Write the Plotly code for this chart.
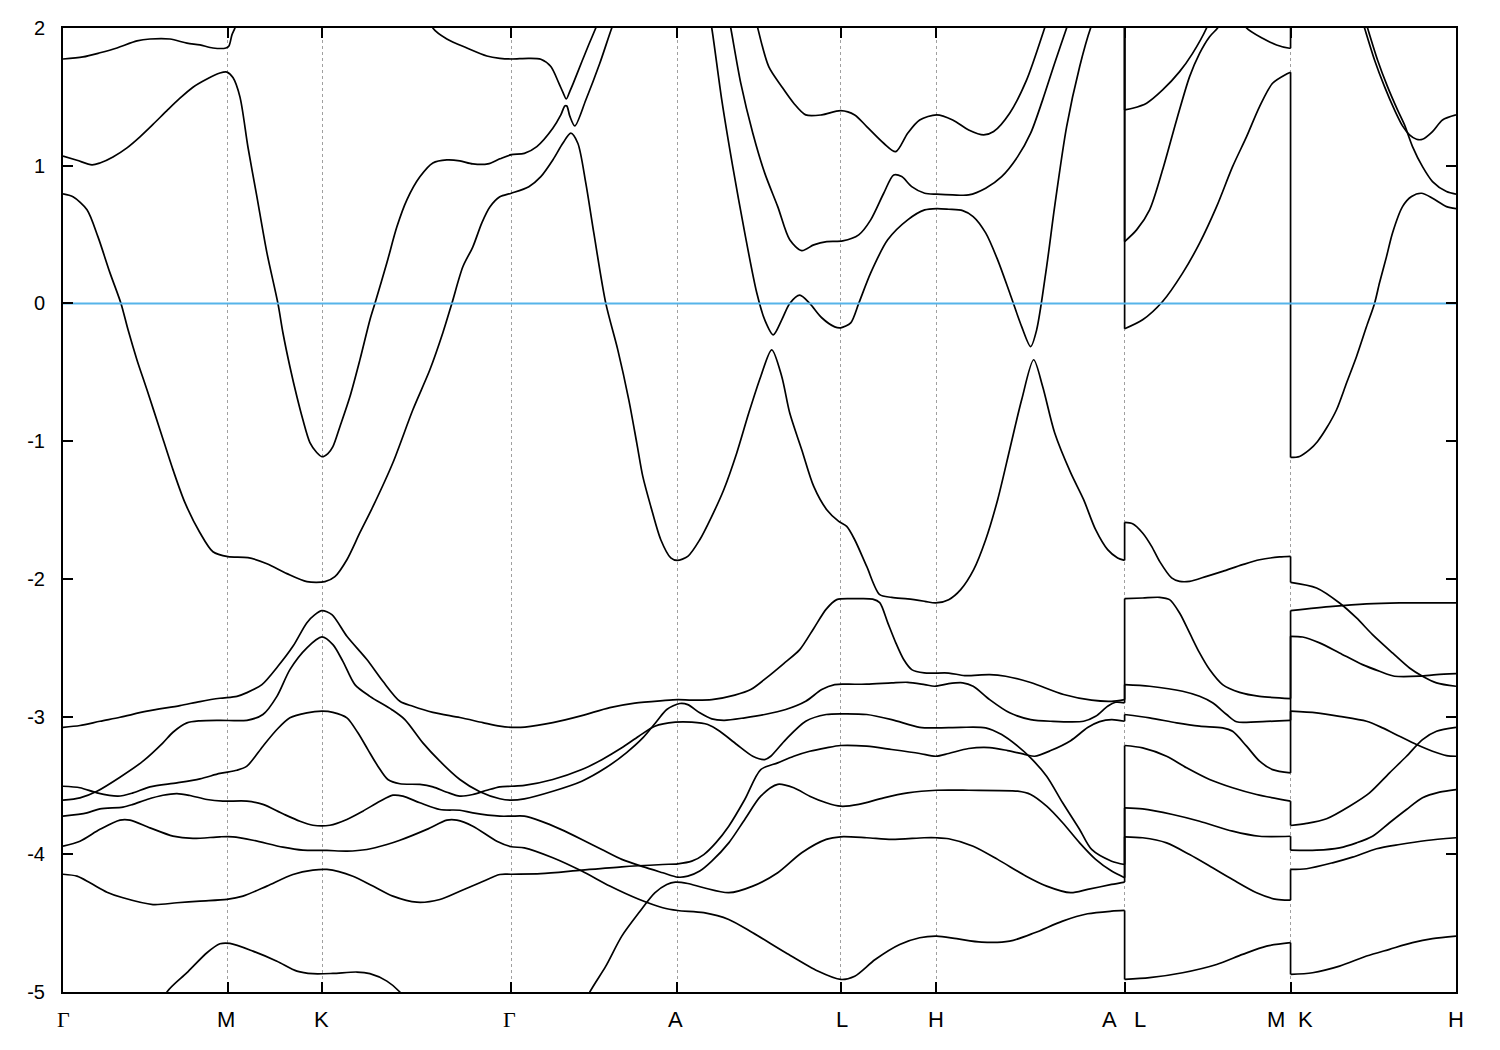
import plotly.graph_objects as go

# ---- high-symmetry path (k in arbitrary path-length units) ----
K_TICKS = [0.0, 1.647, 2.593, 4.485, 6.146, 7.78, 8.735, 10.62, 12.28, 13.935]
LABEL_K = [0.0, 1.63, 2.59, 4.47, 6.13, 7.79, 8.735, 10.47, 10.77, 12.13, 12.43, 13.935]
LABEL_TEXT = ["Γ", "M", "K", "Γ", "A", "L", "H", "A", "L", "M", "K", "H"]
E_TICKS = [2, 1, 0, -1, -2, -3, -4, -5]
E_TICK_TEXT = ["2", "1", "0", "-1", "-2", "-3", "-4", "-5"]
E_FERMI = 0.0
K_RANGE = [0.0, 13.935]
E_RANGE = [-5.0, 2.0]

# ---- bands: (k, E) samples; pieces per continuous path part ----
b1_gmkg = [(0.87,-5.27),(1.04,-5.0),(1.24,-4.86),(1.44,-4.715),(1.57,-4.65),(1.67,-4.647),(1.90,-4.703),(2.14,-4.776),(2.34,-4.848),(2.50,-4.867),(2.70,-4.865),(2.94,-4.855),(3.07,-4.867),(3.24,-4.921),(3.37,-5.0),(3.50,-5.13)]
b1_gala = [(5.12,-5.235),(5.27,-5.0),(5.43,-4.812),(5.59,-4.594),(5.76,-4.425),(5.92,-4.28),(6.04,-4.219),(6.125,-4.202),(6.25,-4.212),(6.41,-4.243),(6.66,-4.279),(6.90,-4.231),(7.15,-4.134),(7.39,-3.989),(7.635,-3.892),(7.78,-3.873),(8.04,-3.88),(8.29,-3.892),(8.615,-3.88),(8.74,-3.88),(8.86,-3.887),(9.105,-3.941),(9.35,-4.037),(9.635,-4.159),(9.84,-4.231),(10.08,-4.279),(10.25,-4.255),(10.49,-4.219),(10.62,-4.202)]
b1_lm = [(10.62,-3.873),(10.80,-3.88),(11.04,-3.917),(11.27,-4.002),(11.50,-4.098),(11.70,-4.183),(11.94,-4.279),(12.14,-4.328),(12.28,-4.333)]
b1_kh = [(12.28,-4.11),(12.44,-4.105),(12.70,-4.062),(12.90,-4.021),(13.14,-3.96),(13.37,-3.929),(13.64,-3.90),(13.935,-3.88)]

b2_path = [(0.00,-3.941),(0.17,-3.905),(0.37,-3.819),(0.57,-3.752),(0.67,-3.752),(0.87,-3.808),(1.10,-3.868),(1.30,-3.885),(1.57,-3.873),(1.70,-3.873),(1.90,-3.898),(2.20,-3.948),(2.40,-3.97),(2.64,-3.972),(2.84,-3.977),(3.04,-3.965),(3.24,-3.929),(3.37,-3.898),(3.64,-3.819),(3.84,-3.752),(3.94,-3.752),(4.10,-3.796),(4.34,-3.905),(4.485,-3.945),(4.615,-3.953),(4.90,-4.025),(5.19,-4.122),(5.47,-4.231),(5.76,-4.327),(6.00,-4.388),(6.15,-4.408),(6.41,-4.424),(6.66,-4.473),(6.90,-4.57),(7.23,-4.715),(7.55,-4.848),(7.78,-4.909),(7.92,-4.885),(8.125,-4.764),(8.37,-4.655),(8.57,-4.606),(8.74,-4.594),(8.94,-4.613),(9.19,-4.638),(9.47,-4.631),(9.72,-4.57),(10.00,-4.485),(10.25,-4.432),(10.49,-4.413),(10.62,-4.408)]
b2_lm = [(10.62,-4.909),(10.87,-4.896),(11.20,-4.86),(11.54,-4.80),(11.80,-4.727),(12.04,-4.667),(12.28,-4.642)]
b2_kh = [(12.28,-4.872),(12.50,-4.86),(12.77,-4.812),(13.04,-4.739),(13.27,-4.69),(13.50,-4.642),(13.70,-4.613),(13.935,-4.594)]

b3_path = [(0.00,-4.145),(0.14,-4.159),(0.27,-4.207),(0.44,-4.275),(0.60,-4.316),(0.90,-4.365),(1.14,-4.352),(1.37,-4.34),(1.64,-4.328),(1.80,-4.304),(2.04,-4.231),(2.30,-4.147),(2.50,-4.115),(2.64,-4.11),(2.90,-4.159),(3.10,-4.231),(3.30,-4.304),(3.54,-4.348),(3.77,-4.328),(3.97,-4.268),(4.17,-4.207),(4.37,-4.147),(4.485,-4.145),(4.78,-4.141),(5.19,-4.115),(5.59,-4.091),(6.00,-4.074),(6.15,-4.069),(6.29,-4.05),(6.41,-4.002),(6.53,-3.917),(6.66,-3.796),(6.82,-3.602),(6.98,-3.385),(7.15,-3.336),(7.31,-3.288),(7.47,-3.252),(7.635,-3.227),(7.78,-3.21),(8.04,-3.215),(8.29,-3.239),(8.57,-3.268),(8.73,-3.288),(8.86,-3.268),(9.06,-3.232),(9.27,-3.225),(9.45,-3.247),(9.63,-3.276),(9.72,-3.288),(9.88,-3.247),(10.08,-3.175),(10.25,-3.08),(10.37,-3.037),(10.49,-3.022),(10.62,-3.034)]
b3_lm = [(10.62,-2.985),(10.87,-3.009),(11.14,-3.046),(11.37,-3.07),(11.60,-3.082),(11.70,-3.107),(11.84,-3.215),(11.97,-3.324),(12.10,-3.385),(12.28,-3.409)]
b3_kh = [(12.28,-2.961),(12.54,-2.973),(12.77,-2.998),(13.04,-3.034),(13.20,-3.082),(13.37,-3.143),(13.54,-3.203),(13.70,-3.252),(13.84,-3.283),(13.935,-3.288)]

b4_path = [(0.00,-3.723),(0.24,-3.699),(0.37,-3.67),(0.60,-3.658),(0.70,-3.638),(0.84,-3.602),(1.00,-3.571),(1.14,-3.559),(1.27,-3.573),(1.44,-3.602),(1.60,-3.614),(1.84,-3.614),(2.00,-3.638),(2.20,-3.706),(2.37,-3.76),(2.50,-3.789),(2.67,-3.789),(2.84,-3.747),(3.00,-3.687),(3.17,-3.615),(3.30,-3.571),(3.40,-3.578),(3.57,-3.626),(3.77,-3.675),(3.97,-3.68),(4.10,-3.699),(4.37,-3.723),(4.485,-3.723),(4.615,-3.723),(4.78,-3.759),(4.98,-3.819),(5.19,-3.892),(5.39,-3.965),(5.59,-4.037),(5.80,-4.09),(6.00,-4.134),(6.15,-4.166),(6.25,-4.159),(6.37,-4.122),(6.49,-4.05),(6.66,-3.917),(6.82,-3.747),(6.98,-3.578),(7.15,-3.492),(7.31,-3.517),(7.47,-3.578),(7.635,-3.626),(7.78,-3.651),(7.96,-3.638),(8.21,-3.59),(8.45,-3.554),(8.74,-3.535),(9.06,-3.535),(9.55,-3.542),(9.68,-3.566),(9.84,-3.651),(10.00,-3.771),(10.17,-3.917),(10.33,-4.037),(10.49,-4.122),(10.62,-4.17)]
b4_lm = [(10.62,-3.663),(10.80,-3.67),(11.10,-3.711),(11.37,-3.76),(11.70,-3.832),(11.97,-3.869),(12.28,-3.869)]
b4_kh = [(12.28,-3.97),(12.54,-3.97),(12.77,-3.953),(12.94,-3.917),(13.10,-3.869),(13.27,-3.771),(13.44,-3.675),(13.60,-3.59),(13.77,-3.549),(13.935,-3.53)]

b5_path = [(0.00,-3.506),(0.17,-3.517),(0.34,-3.554),(0.55,-3.578),(0.70,-3.554),(0.87,-3.51),(1.14,-3.481),(1.37,-3.452),(1.57,-3.413),(1.74,-3.39),(1.84,-3.36),(2.00,-3.215),(2.14,-3.094),(2.27,-3.009),(2.44,-2.973),(2.59,-2.961),(2.70,-2.969),(2.84,-3.009),(2.95,-3.118),(3.05,-3.24),(3.15,-3.36),(3.25,-3.457),(3.37,-3.488),(3.57,-3.493),(3.70,-3.51),(3.84,-3.549),(3.97,-3.578),(4.10,-3.566),(4.24,-3.535),(4.37,-3.51),(4.485,-3.506),(4.615,-3.50),(4.90,-3.457),(5.19,-3.385),(5.39,-3.313),(5.59,-3.227),(5.76,-3.143),(5.92,-3.07),(6.125,-3.041),(6.29,-3.041),(6.45,-3.058),(6.57,-3.107),(6.74,-3.203),(6.90,-3.288),(7.02,-3.312),(7.08,-3.288),(7.23,-3.167),(7.43,-3.034),(7.635,-2.985),(7.80,-2.98),(8.04,-2.985),(8.29,-3.022),(8.57,-3.078),(8.74,-3.082),(8.98,-3.078),(9.23,-3.082),(9.39,-3.131),(9.55,-3.215),(9.68,-3.30),(9.84,-3.433),(10.00,-3.626),(10.17,-3.82),(10.29,-3.965),(10.49,-4.05),(10.62,-4.074)]
b5_lm = [(10.62,-3.21),(10.80,-3.227),(11.04,-3.288),(11.24,-3.372),(11.47,-3.457),(11.70,-3.517),(11.94,-3.566),(12.28,-3.614)]
b5_kh = [(12.28,-3.791),(12.44,-3.776),(12.64,-3.742),(12.87,-3.651),(13.07,-3.554),(13.27,-3.409),(13.44,-3.288),(13.60,-3.167),(13.74,-3.107),(13.935,-3.078)]

b6_path = [(0.00,-3.607),(0.17,-3.59),(0.34,-3.542),(0.57,-3.44),(0.80,-3.324),(1.00,-3.191),(1.10,-3.114),(1.24,-3.046),(1.37,-3.031),(1.57,-3.027),(1.84,-3.027),(2.00,-2.985),(2.14,-2.853),(2.27,-2.659),(2.44,-2.501),(2.59,-2.422),(2.70,-2.478),(2.80,-2.599),(2.92,-2.768),(3.07,-2.853),(3.29,-2.95),(3.42,-3.022),(3.60,-3.191),(3.77,-3.324),(3.97,-3.457),(4.17,-3.546),(4.37,-3.597),(4.485,-3.607),(4.615,-3.597),(4.90,-3.542),(5.19,-3.469),(5.43,-3.372),(5.635,-3.263),(5.80,-3.155),(5.94,-3.034),(6.04,-2.949),(6.17,-2.905),(6.25,-2.913),(6.37,-2.973),(6.49,-3.017),(6.615,-3.027),(6.82,-3.009),(7.02,-2.985),(7.23,-2.949),(7.43,-2.889),(7.59,-2.804),(7.72,-2.768),(7.84,-2.765),(8.04,-2.765),(8.29,-2.755),(8.45,-2.751),(8.62,-2.768),(8.72,-2.78),(8.86,-2.761),(9.00,-2.755),(9.105,-2.78),(9.27,-2.877),(9.47,-2.973),(9.68,-3.022),(9.88,-3.034),(10.21,-3.034),(10.33,-2.998),(10.45,-2.925),(10.53,-2.896),(10.62,-2.90)]
b6_lm = [(10.62,-2.768),(10.87,-2.78),(11.20,-2.816),(11.37,-2.853),(11.50,-2.90),(11.64,-2.985),(11.74,-3.038),(11.94,-3.038),(12.28,-3.027)]
b6_kh = [(12.28,-2.417),(12.40,-2.422),(12.57,-2.465),(12.77,-2.538),(13.00,-2.623),(13.17,-2.671),(13.32,-2.707),(13.57,-2.707),(13.74,-2.695),(13.935,-2.688)]

b7_path = [(0.00,-3.078),(0.17,-3.065),(0.37,-3.034),(0.57,-3.005),(0.84,-2.961),(1.17,-2.92),(1.37,-2.891),(1.57,-2.867),(1.74,-2.853),(1.84,-2.826),(1.99,-2.768),(2.15,-2.635),(2.30,-2.49),(2.44,-2.318),(2.52,-2.26),(2.59,-2.231),(2.69,-2.26),(2.84,-2.417),(3.04,-2.586),(3.20,-2.744),(3.37,-2.889),(3.50,-2.925),(3.70,-2.969),(3.97,-3.007),(4.20,-3.044),(4.37,-3.07),(4.485,-3.078),(4.62,-3.076),(4.90,-3.044),(5.19,-2.993),(5.47,-2.935),(5.72,-2.902),(6.00,-2.884),(6.15,-2.877),(6.29,-2.88),(6.49,-2.877),(6.72,-2.844),(6.88,-2.804),(7.04,-2.717),(7.21,-2.615),(7.37,-2.514),(7.51,-2.36),(7.635,-2.22),(7.74,-2.151),(7.92,-2.144),(8.10,-2.147),(8.17,-2.173),(8.25,-2.318),(8.33,-2.463),(8.41,-2.586),(8.49,-2.659),(8.615,-2.683),(8.86,-2.684),(9.02,-2.702),(9.27,-2.695),(9.43,-2.707),(9.68,-2.753),(10.01,-2.84),(10.29,-2.881),(10.49,-2.889),(10.62,-2.877)]
b7_lm = [(10.62,-2.144),(10.80,-2.139),(10.97,-2.134),(11.07,-2.151),(11.17,-2.248),(11.27,-2.393),(11.37,-2.538),(11.47,-2.659),(11.60,-2.768),(11.77,-2.824),(11.97,-2.853),(12.28,-2.869)]
b7_kh = [(12.28,-2.231),(12.70,-2.20),(13.04,-2.182),(13.37,-2.175),(13.935,-2.175)]

b8_path = [(0.00,0.795),(0.10,0.774),(0.24,0.68),(0.35,0.483),(0.47,0.222),(0.58,0.0),(0.65,-0.19),(0.74,-0.41),(0.84,-0.627),(0.97,-0.917),(1.10,-1.207),(1.22,-1.447),(1.37,-1.665),(1.50,-1.803),(1.65,-1.839),(1.85,-1.846),(2.04,-1.89),(2.24,-1.962),(2.44,-2.02),(2.62,-2.02),(2.72,-1.984),(2.84,-1.861),(2.97,-1.665),(3.10,-1.476),(3.30,-1.157),(3.50,-0.772),(3.67,-0.482),(3.80,-0.213),(3.89,0.0),(4.00,0.266),(4.10,0.411),(4.19,0.585),(4.27,0.70),(4.37,0.774),(4.485,0.80),(4.66,0.848),(4.78,0.921),(4.90,1.042),(5.00,1.163),(5.08,1.236),(5.15,1.163),(5.23,0.873),(5.31,0.512),(5.43,0.0),(5.55,-0.337),(5.66,-0.70),(5.74,-1.014),(5.80,-1.256),(5.88,-1.474),(5.98,-1.716),(6.08,-1.848),(6.145,-1.866),(6.25,-1.837),(6.37,-1.716),(6.49,-1.546),(6.61,-1.353),(6.74,-1.086),(6.86,-0.796),(6.98,-0.53),(7.09,-0.337),(7.19,-0.53),(7.27,-0.796),(7.39,-1.062),(7.51,-1.329),(7.64,-1.498),(7.76,-1.583),(7.84,-1.619),(7.92,-1.716),(8.04,-1.91),(8.17,-2.115),(8.29,-2.134),(8.45,-2.146),(8.62,-2.163),(8.73,-2.175),(8.86,-2.151),(8.98,-2.078),(9.11,-1.933),(9.23,-1.716),(9.35,-1.425),(9.47,-1.062),(9.59,-0.70),(9.71,-0.409),(9.80,-0.603),(9.92,-0.939),(10.08,-1.229),(10.21,-1.425),(10.33,-1.643),(10.45,-1.788),(10.55,-1.848),(10.62,-1.866)]
b8_lm = [(10.62,-1.59),(10.70,-1.60),(10.80,-1.667),(10.89,-1.764),(10.97,-1.873),(11.09,-1.993),(11.17,-2.018),(11.27,-2.018),(11.44,-1.982),(11.60,-1.946),(11.80,-1.897),(11.97,-1.861),(12.17,-1.841),(12.28,-1.837)]
b8_kh = [(12.28,-2.025),(12.54,-2.066),(12.77,-2.175),(12.94,-2.284),(13.10,-2.405),(13.30,-2.538),(13.47,-2.647),(13.60,-2.707),(13.74,-2.755),(13.935,-2.78)]

b9_path = [(0.00,1.07),(0.14,1.04),(0.29,1.006),(0.37,1.02),(0.50,1.064),(0.64,1.13),(0.77,1.21),(0.90,1.30),(1.04,1.40),(1.17,1.49),(1.30,1.57),(1.44,1.63),(1.57,1.673),(1.64,1.68),(1.70,1.64),(1.77,1.50),(1.85,1.136),(1.94,0.774),(2.04,0.367),(2.15,0.0),(2.20,-0.213),(2.27,-0.46),(2.34,-0.678),(2.40,-0.845),(2.47,-1.01),(2.54,-1.084),(2.59,-1.113),(2.65,-1.09),(2.70,-1.04),(2.77,-0.895),(2.87,-0.678),(2.97,-0.41),(3.07,-0.12),(3.12,0.0),(3.24,0.295),(3.34,0.556),(3.44,0.752),(3.57,0.919),(3.70,1.02),(3.84,1.042),(3.97,1.035),(4.10,1.013),(4.25,1.013),(4.37,1.05),(4.485,1.08),(4.615,1.09),(4.74,1.139),(4.90,1.272),(4.98,1.369),(5.02,1.434),(5.04,1.434),(5.07,1.36),(5.12,1.289),(5.23,1.477),(5.37,1.744),(5.49,2.0),(5.53,2.07)]

b10_gm = [(0.00,1.775),(0.20,1.79),(0.37,1.82),(0.54,1.855),(0.74,1.906),(0.87,1.92),(1.07,1.92),(1.24,1.89),(1.37,1.877),(1.50,1.855),(1.63,1.855),(1.66,1.87),(1.69,1.95),(1.72,2.0),(1.75,2.08)]
b10_kga = [(3.67,2.08),(3.70,2.0),(3.84,1.92),(4.04,1.855),(4.24,1.797),(4.37,1.78),(4.485,1.775),(4.66,1.78),(4.78,1.773),(4.88,1.72),(4.96,1.60),(5.00,1.535),(5.035,1.485),(5.07,1.54),(5.105,1.60),(5.19,1.755),(5.26,1.88),(5.33,2.0),(5.37,2.07)]

b11_path = [(6.47,2.07),(6.49,2.0),(6.59,1.478),(6.70,0.993),(6.82,0.512),(6.94,0.077),(7.02,-0.119),(7.105,-0.228),(7.19,-0.119),(7.27,0.0),(7.37,0.06),(7.47,0.0),(7.59,-0.104),(7.72,-0.17),(7.78,-0.177),(7.88,-0.141),(7.96,0.0),(8.08,0.222),(8.25,0.462),(8.45,0.607),(8.62,0.679),(8.74,0.689),(8.86,0.684),(9.00,0.674),(9.105,0.631),(9.23,0.512),(9.35,0.316),(9.47,0.077),(9.59,-0.168),(9.68,-0.313),(9.74,-0.192),(9.84,0.268),(9.92,0.703),(10.04,1.284),(10.17,1.719),(10.28,2.0),(10.32,2.07),(10.62,2.6)]
b11_lm = [(10.62,-0.184),(10.80,-0.119),(11.00,0.014),(11.20,0.22),(11.37,0.438),(11.54,0.703),(11.70,0.993),(11.84,1.211),(11.97,1.429),(12.10,1.599),(12.24,1.666),(12.28,1.679)]
b11_kh = [(12.28,-1.118),(12.37,-1.111),(12.47,-1.062),(12.55,-1.002),(12.64,-0.905),(12.74,-0.772),(12.84,-0.578),(12.94,-0.385),(13.04,-0.168),(13.12,0.0),(13.17,0.15),(13.24,0.34),(13.30,0.512),(13.40,0.703),(13.49,0.776),(13.59,0.80),(13.70,0.764),(13.84,0.703),(13.935,0.689)]

b12_path = [(6.66,2.07),(6.68,2.0),(6.78,1.60),(6.90,1.238),(7.02,0.946),(7.15,0.703),(7.27,0.462),(7.39,0.384),(7.51,0.425),(7.64,0.449),(7.80,0.454),(7.96,0.498),(8.08,0.607),(8.21,0.80),(8.31,0.933),(8.39,0.921),(8.49,0.848),(8.62,0.80),(8.74,0.793),(8.90,0.788),(9.06,0.788),(9.23,0.837),(9.39,0.921),(9.55,1.066),(9.68,1.236),(9.80,1.478),(9.92,1.744),(10.04,2.0),(10.08,2.09),(10.62,2.7)]
b12_lm = [(10.62,0.449),(10.74,0.534),(10.87,0.68),(11.00,0.97),(11.14,1.332),(11.27,1.647),(11.37,1.816),(11.47,1.937),(11.55,2.0),(11.59,2.06)]
b12_kh = [(13.02,2.07),(13.05,2.0),(13.15,1.768),(13.25,1.574),(13.35,1.405),(13.42,1.296),(13.50,1.139),(13.60,0.993),(13.70,0.885),(13.84,0.812),(13.935,0.793)]

b13_path = [(6.93,2.07),(6.95,2.0),(7.06,1.719),(7.19,1.574),(7.31,1.454),(7.43,1.369),(7.59,1.369),(7.78,1.40),(7.92,1.369),(8.04,1.284),(8.21,1.163),(8.33,1.102),(8.45,1.236),(8.57,1.332),(8.74,1.369),(8.90,1.332),(9.06,1.26),(9.21,1.224),(9.31,1.248),(9.47,1.381),(9.64,1.623),(9.82,2.0),(9.86,2.09),(10.62,2.8)]
b13_lm = [(10.62,1.405),(10.70,1.417),(10.84,1.454),(11.00,1.55),(11.17,1.683),(11.30,1.816),(11.44,2.0),(11.47,2.06)]
b13_kh = [(12.99,2.07),(13.02,2.0),(13.12,1.768),(13.22,1.574),(13.32,1.405),(13.40,1.289),(13.47,1.224),(13.54,1.192),(13.60,1.192),(13.70,1.248),(13.80,1.332),(13.935,1.369)]

b14_lm = [(11.80,2.07),(11.84,2.0),(12.00,1.925),(12.14,1.877),(12.27,1.853),(12.28,1.853)]
b14_kh = [(12.28,2.6),(12.60,2.9)]

BANDS = [
    [b1_gmkg, b1_gala, b1_lm, b1_kh],
    [b2_path, b2_lm, b2_kh],
    [b3_path, b3_lm, b3_kh],
    [b4_path, b4_lm, b4_kh],
    [b5_path, b5_lm, b5_kh],
    [b6_path, b6_lm, b6_kh],
    [b7_path, b7_lm, b7_kh],
    [b8_path, b8_lm, b8_kh],
    [b9_path],
    [b10_gm, b10_kga],
    [b11_path, b11_lm, b11_kh],
    [b12_path, b12_lm, b12_kh],
    [b13_path, b13_lm, b13_kh],
    [b14_lm, b14_kh],
]

BAND_COLOR = "#000000"
FERMI_COLOR = "#56b4e9"
GRID_COLOR = "#a0a0a0"

fig = go.Figure()
for band in BANDS:
    for piece in band:
        fig.add_trace(go.Scatter(
            x=[p[0] for p in piece], y=[p[1] for p in piece], mode="lines",
            line=dict(color=BAND_COLOR, width=1.7, shape="spline", smoothing=0.8),
            hoverinfo="skip", showlegend=False))
    # discontinuity of the path: connect band values on both sides at the same k
    for a, b in zip(band[:-1], band[1:]):
        if abs(a[-1][0] - b[0][0]) < 1e-9:
            fig.add_trace(go.Scatter(
                x=[a[-1][0], b[0][0]], y=[a[-1][1], b[0][1]], mode="lines",
                line=dict(color=BAND_COLOR, width=1.7),
                hoverinfo="skip", showlegend=False))

fig.add_trace(go.Scatter(x=K_RANGE, y=[E_FERMI, E_FERMI], mode="lines",
                         line=dict(color=FERMI_COLOR, width=2),
                         hoverinfo="skip", showlegend=False))

for kx, txt in zip(LABEL_K, LABEL_TEXT):
    fam = "Liberation Serif, DejaVu Serif, serif" if txt == "Γ" else "Liberation Sans, Arial, sans-serif"
    fig.add_annotation(x=kx, y=-0.029, xref="x", yref="paper", text=txt,
                       showarrow=False, xanchor="center", yanchor="middle",
                       font=dict(family=fam, size=22, color="black"))

# the page adds an 8px body margin around the figure, so the figure is 8px smaller
fig.update_layout(
    width=1492, height=1042,
    margin=dict(l=55, r=44, t=20, b=58, autoexpand=False),
    paper_bgcolor="white", plot_bgcolor="white",
    showlegend=False,
    font=dict(family="Liberation Sans, Arial, sans-serif", size=20, color="black"),
)
fig.update_xaxes(range=K_RANGE, tickmode="array", tickvals=K_TICKS,
                 ticktext=[""] * len(K_TICKS),
                 showgrid=True, gridcolor=GRID_COLOR, gridwidth=1, griddash="3px,3px",
                 zeroline=False, showline=True, linecolor="black", linewidth=2,
                 mirror="ticks", ticks="inside", ticklen=10, tickwidth=1.5, tickcolor="black",
                 automargin=False)
fig.update_yaxes(range=E_RANGE, tickmode="array", tickvals=E_TICKS, ticktext=E_TICK_TEXT,
                 showgrid=False, zeroline=False, showline=True, linecolor="black", linewidth=2,
                 mirror="ticks", ticks="inside", ticklen=10, tickwidth=1.5, tickcolor="black",
                 ticklabelstandoff=12, tickfont=dict(size=20), automargin=False)

fig.write_html("out.html")
